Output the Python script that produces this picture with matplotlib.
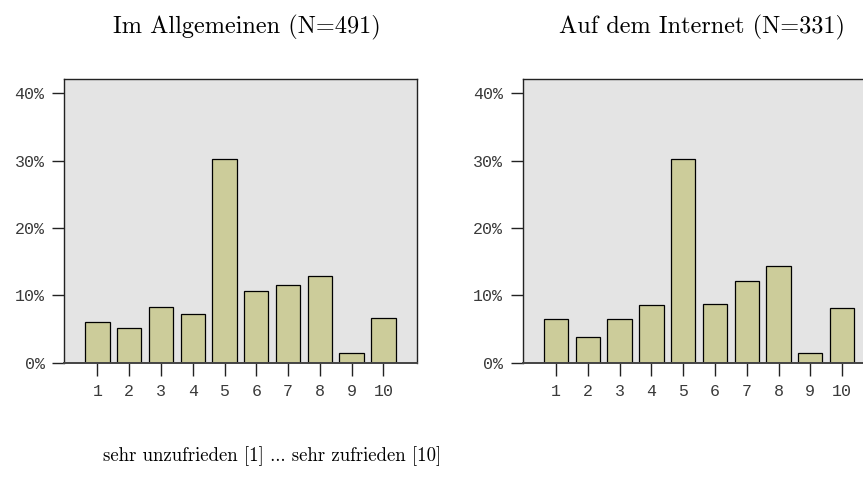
import matplotlib
matplotlib.use("Agg")
import matplotlib.pyplot as plt

# Zufriedenheit, Antworten in Prozent
skala = [1, 2, 3, 4, 5, 6, 7, 8, 9, 10]
allgemein = [6.1, 5.1, 8.3, 7.3, 30.2, 10.6, 11.5, 12.8, 1.4, 6.6]
internet = [6.5, 3.8, 6.5, 8.6, 30.2, 8.7, 12.2, 14.4, 1.5, 8.1]

titel = ["Im Allgemeinen (N=491)", "Auf dem Internet (N=331)"]
y_ticks = [0, 10, 20, 30, 40]
y_labels = ["0%", "10%", "20%", "30%", "40%"]

balken_farbe = "#cccc9a"
hintergrund = "#e4e4e4"

fig = plt.figure(figsize=(8.63, 4.91), dpi=100)

ax1 = fig.add_axes([0.0742, 0.2613, 0.4087, 0.5768])
ax2 = fig.add_axes([0.6057, 0.2613, 0.4087, 0.5768])

for ax, werte in [(ax1, allgemein), (ax2, internet)]:
    ax.set_facecolor(hintergrund)
    ax.bar(skala, werte, width=0.765, color=balken_farbe,
           edgecolor="black", linewidth=0.9, zorder=2)
    ax.set_xlim(-0.05, 11.05)
    ax.set_ylim(0, 42.05)
    ax.set_xticks(skala)
    ax.set_xticklabels([str(s) for s in skala])
    ax.set_yticks(y_ticks)
    ax.set_yticklabels(y_labels)
    ax.tick_params(axis="both", direction="out", length=9, width=1.0,
                   color="#222222", labelcolor="#3a3a3a")
    ax.tick_params(axis="y", pad=5)
    ax.tick_params(axis="x", pad=6)
    for lab in ax.get_xticklabels() + ax.get_yticklabels():
        lab.set_fontfamily("Liberation Mono")
        lab.set_fontsize(12)
    for name, sp in ax.spines.items():
        sp.set_linewidth(1.0)
        sp.set_color("#222222")
    ax.spines["bottom"].set_color("#444444")
    ax.spines["bottom"].set_linewidth(1.4)

fig.text(246.5 / 863, 1 - 27 / 491, titel[0], family="cmr10", fontsize=17.5,
         ha="center", va="center")
fig.text(702 / 863, 1 - 27 / 491, titel[1], family="cmr10", fontsize=17.5,
         ha="center", va="center")
fig.text(103 / 863, 1 - 456 / 491, "sehr unzufrieden [1] ... sehr zufrieden [10]",
         family="cmr10", fontsize=13.5, ha="left", va="center")

fig.savefig("out.png", dpi=100)
